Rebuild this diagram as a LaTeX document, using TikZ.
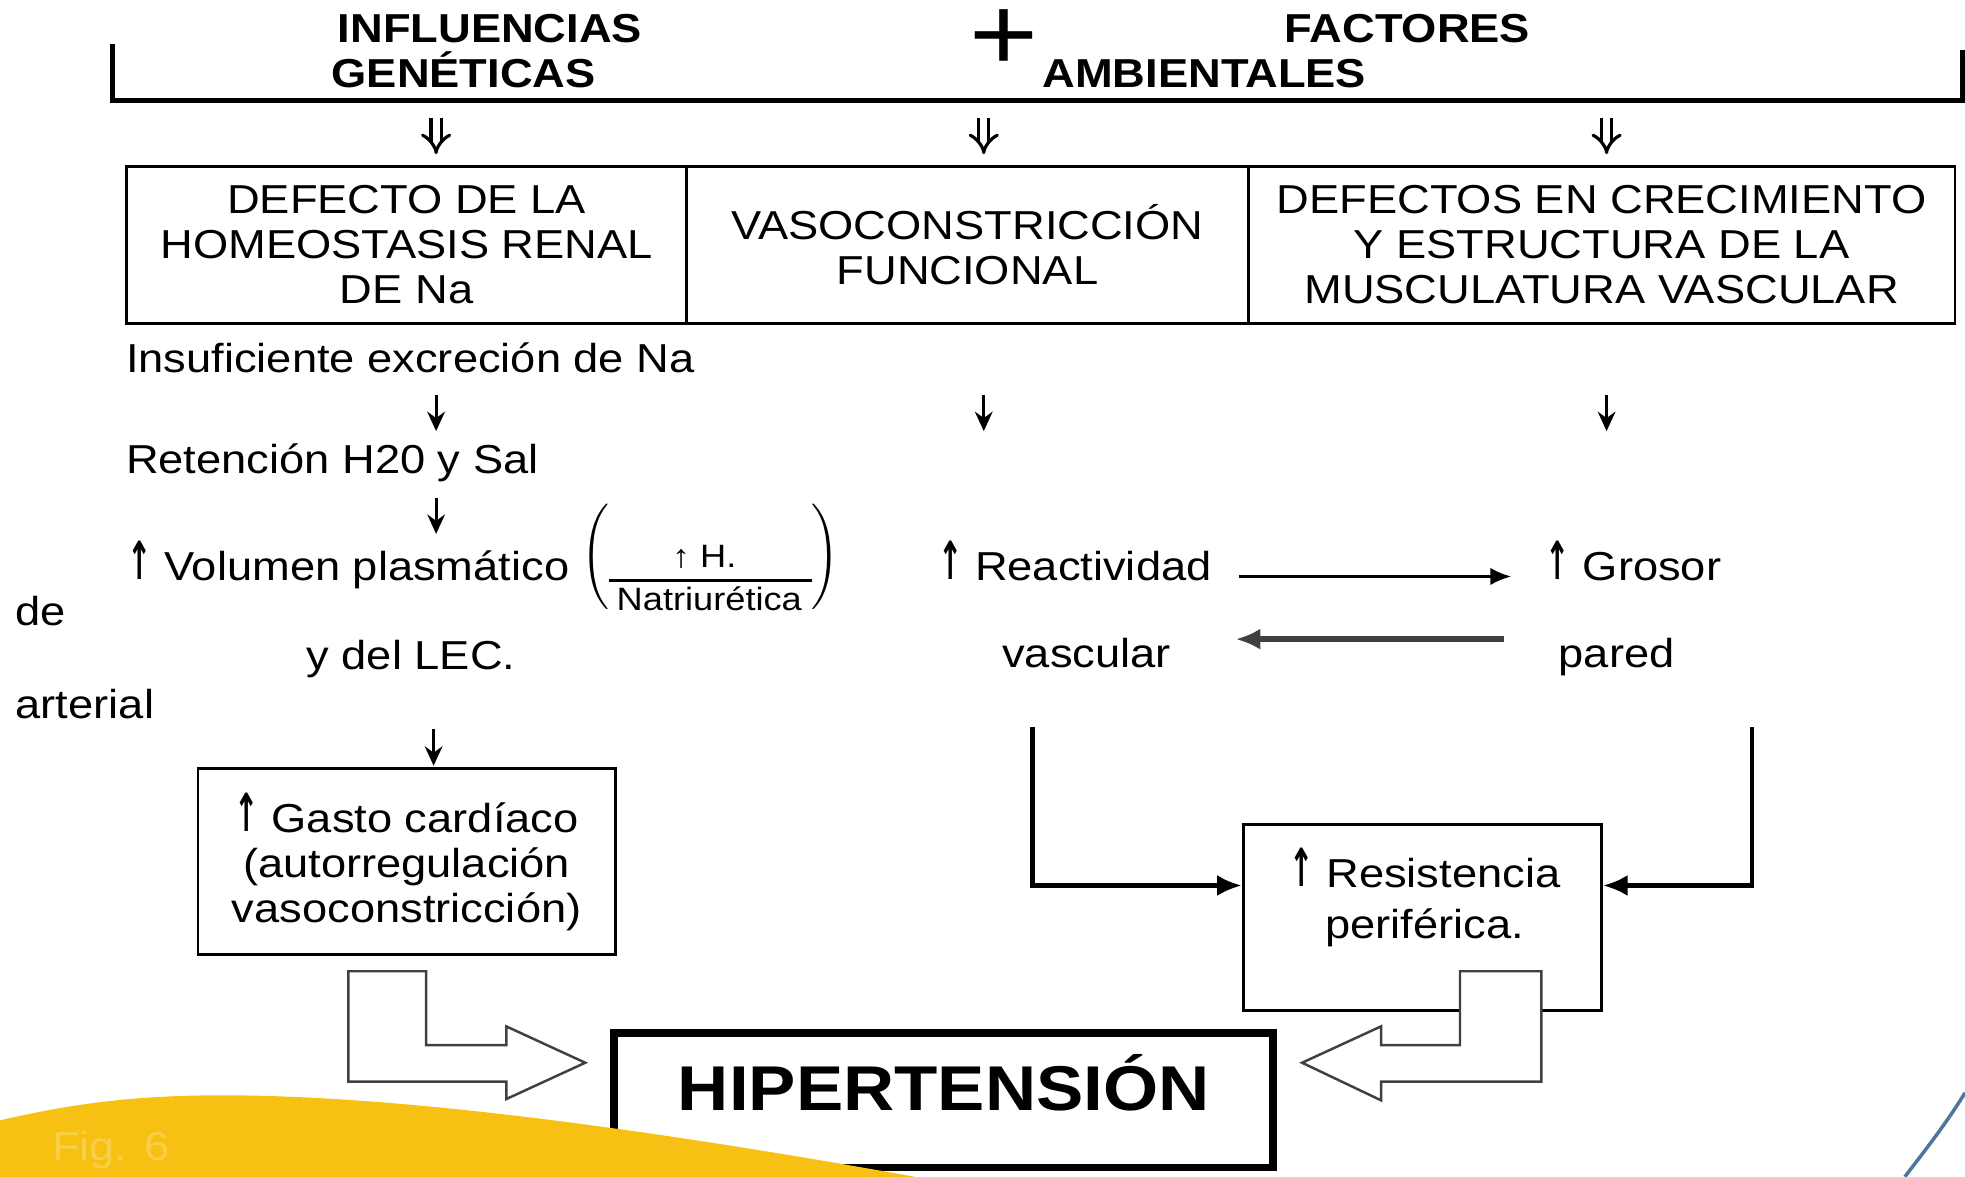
\documentclass[tikz,border=0pt]{standalone}
\usepackage{fontspec}
\setmainfont{Liberation Sans}[FakeStretch=1.12]
\newfontfamily\arrowfont{DejaVu Sans}
\usetikzlibrary{arrows.meta}
\newcommand{\unitpx}{0.12532mm}
\newcommand{\uparr}{\raisebox{0.3pt}{\scalebox{0.72}[1.3]{\arrowfont\bfseries ↑}}}
\definecolor{swoosh}{RGB}{246,193,18}
\definecolor{figtxt}{RGB}{249,207,72}
\definecolor{slideblue}{RGB}{78,118,160}
\tikzset{ t/.style = { inner sep = 0pt % text line
        , font = \fontsize{11.5}{12.8}\selectfont
        }
        , hd/.style = { inner sep = 0pt % header
        , font = \fontsize{11.5}{12.8}\selectfont\bfseries
        }
        , sm/.style = { inner sep = 0pt % small text
        , font = \fontsize{9.2}{10}\selectfont
        }
        , bx/.style = { rectangle % box
        , draw
        , line width = 0.8pt
        , inner sep = 0pt
        , align = center
        , font = \fontsize{11.5}{12.8}\selectfont
        }
        }

\begin{document}
\begin{tikzpicture}[x=\unitpx, y=-\unitpx,
        link/.style={line width=1.3pt, -{Latex[length=7pt,width=6pt]}},
        down/.style={line width=0.9pt, -{Stealth[length=5.5pt,width=5pt]}},
        dbl/.style={double, double distance=2pt, line width=0.9pt, -{Implies}},
        hollow/.style={draw=black!75, fill=white, line width=0.7pt}]
        \fill[white] (0,0) rectangle (1568,939);
        \useasboundingbox (0,0) rectangle (1568,939);

        % header
        \draw[line width=1.4pt] (90,35) -- (90,80) -- (1566,80) -- (1566,40);
        \node[hd, anchor=base] (infl) at (391,34) {INFLUENCIAS};
        \node[hd, anchor=base] (gen) at (370,70) {GENÉTICAS};
        \node[font=\fontsize{30}{30}\selectfont, inner sep=4pt] (plus) at (801,32) {+};
        \node[hd, anchor=base] (fact) at (1123,34) {FACTORES};
        \node[hd, anchor=base] (amb) at (961,70) {AMBIENTALES};
        \foreach \x [count=\i] in {348,785,1282} {
            \coordinate (dd\i) at (\x,94);
            \draw[dbl] (dd\i) -- ++(0,29);
        }

        % boxes
        \node[bx, minimum width=447*\unitpx, minimum height=125*\unitpx] (b1) at (324.5,195.5) {DEFECTO DE LA\\HOMEOSTASIS RENAL\\DE Na};
        \node[bx, minimum width=448*\unitpx, minimum height=125*\unitpx] (b2) at (772,195.5) {VASOCONSTRICCIÓN\\FUNCIONAL};
        \node[bx, minimum width=564*\unitpx, minimum height=125*\unitpx] (b3) at (1278,195.5) {DEFECTOS EN CRECIMIENTO\\Y ESTRUCTURA DE LA\\MUSCULATURA VASCULAR};

        % left column
        \node[t, anchor=base west] (insu) at (100,297) {Insuficiente excreción de Na};
        \node[t, anchor=base west] (ret) at (100,378) {Retención H20 y Sal};
        \node[t, anchor=base west] (vol) at (101,463) {\uparr\ Volumen plasmático};
        \node[sm, anchor=base] (hnum) at (562,453) {↑ H.};
        \node[sm, anchor=base] (hden) at (566,487) {Natriurética};
        \coordinate (barl) at (486,463); \coordinate (barr) at (648,463);
        \draw[line width=0.9pt] (barl) -- (barr);
        \node[inner sep=0pt] (lpar) at (477,444) {$\left(\vrule height 11pt depth 11pt width 0pt\right.$};
        \node[inner sep=0pt] (rpar) at (657,444) {$\left.\vrule height 11pt depth 11pt width 0pt\right)$};
        \node[t, anchor=base] (lec) at (328,534) {y del LEC.};
        \node[t, anchor=base west] (de) at (12,499) {de};
        \node[t, anchor=base west] (art) at (12,573) {arterial};
        \node[bx, minimum width=333*\unitpx, minimum height=148*\unitpx] (gasto) at (324.5,687.5) {\uparr\ Gasto cardíaco\\(autorregulación\\vasoconstricción)};
        \foreach \x/\y [count=\i] in {348/315, 785/315, 1282/315, 348/397, 346/582} {
            \coordinate (ar\i) at (\x,\y);
            \draw[down] (ar\i) -- ++(0,29);
        }

        % right column
        \node[t, anchor=base west] (react) at (748,463) {\uparr\ Reactividad};
        \node[t, anchor=base] (vasc) at (867,533) {vascular};
        \node[t, anchor=base west] (gros) at (1233,463) {\uparr\ Grosor};
        \node[t, anchor=base] (pared) at (1290,533) {pared};
        \coordinate (rg1) at (989,460); \coordinate (rg2) at (1206,460);
        \draw[line width=0.9pt, -{Latex[length=6pt,width=5pt]}] (rg1) -- (rg2);
        \coordinate (gr1) at (1200,510); \coordinate (gr2) at (986,510);
        \draw[line width=1.6pt, black!75, -{Latex[length=7pt,width=6pt]}] (gr1) -- (gr2);
        \node[bx, minimum width=286*\unitpx, minimum height=148*\unitpx] (res) at (1135,732) {};
        \node[t, align=center, font=\fontsize{11.5}{14.5}\selectfont] (restxt) at (1137,716) {\uparr\ Resistencia\\periférica.};
        \coordinate (vdrop) at (824,580);
        \coordinate (pdrop) at (1398,580);
        \draw[link] (vdrop) |- (res.170);
        \draw[link] (pdrop) |- (res.10);

        % hollow arrows
        \draw[hollow] (278,775) -- (340,775) -- (340,834) -- (404,834) -- (404,819) -- (467,848) -- (404,877) -- (404,863) -- (278,863) -- cycle;
        \draw[hollow] (1230,775) -- (1165,775) -- (1165,834) -- (1102,834) -- (1102,819) -- (1039,848) -- (1102,878) -- (1102,863) -- (1230,863) -- cycle;

        % result
        \node[rectangle, draw, line width=2.2pt, minimum width=526*\unitpx, minimum height=107*\unitpx] (hta) at (753,878) {};
        \node[inner sep=0pt, anchor=base, font=\fontsize{18}{18}\selectfont\bfseries] (htatxt) at (753,886) {HIPERTENSIÓN};

        % slide decoration
        \fill[swoosh] (0,894) .. controls (60,880) and (110,874) .. (178,874) .. controls (330,874) and (540,905) .. (730,939) -- (0,939) -- cycle;
        \node[t, anchor=base west, text=figtxt] (fig) at (41,926) {Fig. 6};
        \draw[slideblue, line width=1pt] (1568,872) .. controls (1552,898) and (1536,918) .. (1520,939);
\end{tikzpicture}
\end{document}
